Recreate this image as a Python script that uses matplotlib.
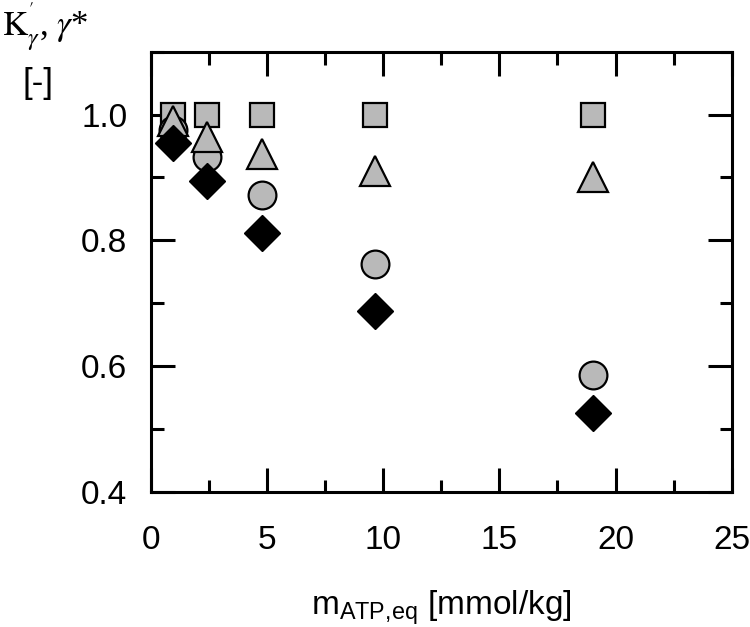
import matplotlib
matplotlib.use('Agg')
import matplotlib.pyplot as plt
from matplotlib.ticker import MultipleLocator

# data
m_atp = [0.96, 2.41, 4.80, 9.65, 19.03]
square_vals = [1.0, 1.0, 1.0, 1.0, 1.0]
circle_vals = [0.975, 0.932, 0.872, 0.762, 0.586]
triangle_vals = [0.990, 0.964, 0.938, 0.910, 0.901]
diamond_vals = [0.955, 0.894, 0.812, 0.688, 0.525]

x_ticks = [0, 5, 10, 15, 20, 25]
y_ticks = [0.4, 0.6, 0.8, 1.0]

plt.rcParams['font.family'] = ['Liberation Sans', 'DejaVu Sans']

fig = plt.figure(figsize=(7.5, 6.27), dpi=100)
ax = fig.add_axes([0.201, 0.216, 0.7746, 0.7015])

gray = '#b9b9b9'
ax.plot(m_atp, square_vals, 's', ms=17, mfc=gray, mec='black', mew=1.6, zorder=3)
ax.plot(m_atp, circle_vals, 'o', ms=20, mfc=gray, mec='black', mew=1.6, zorder=4)
ax.plot(m_atp, triangle_vals, '^', ms=22, mfc=gray, mec='black', mew=1.6, zorder=5)
ax.plot(m_atp, diamond_vals, 'D', ms=18.5, mfc='black', mec='black', mew=1.0, zorder=6)

ax.set_xlim(0, 25)
ax.set_ylim(0.4, 1.1)
ax.set_xticks(x_ticks)
ax.set_yticks(y_ticks)
ax.set_yticklabels(['%.1f' % v for v in y_ticks])
ax.xaxis.set_minor_locator(MultipleLocator(2.5))
ax.yaxis.set_minor_locator(MultipleLocator(0.1))

ax.tick_params(which='both', direction='in', top=True, right=True, width=2.2,
               labelsize=24, colors='black')
ax.tick_params(which='major', length=17)
ax.tick_params(which='minor', length=9)
ax.tick_params(axis='x', pad=24)
ax.tick_params(axis='y', pad=17)
for s in ax.spines.values():
    s.set_linewidth(2.2)

ax.set_xlabel(r'm$_{\mathregular{ATP{,}eq}}$ [mmol/kg]', fontsize=24, labelpad=23)

# y-axis label in the top left corner
plt.rcParams['mathtext.fontset'] = 'stix'
fig.text(0.003, 0.941, r"$\mathrm{K}_{\gamma}^{'}$, $\gamma$*", fontsize=25,
         family=['Liberation Serif', 'DejaVu Serif'], ha='left', va='baseline')
fig.text(0.030, 0.852, '[-]', fontsize=25, ha='left', va='baseline')

plt.savefig('out.png', dpi=100)
